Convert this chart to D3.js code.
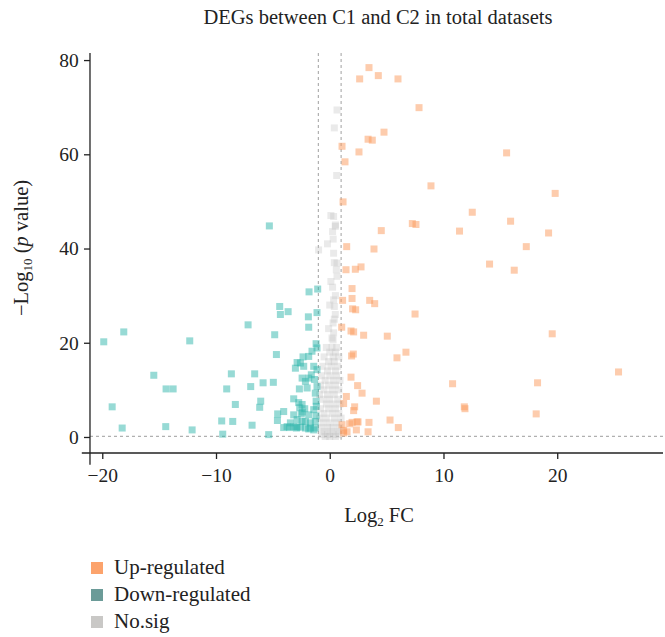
<!DOCTYPE html>
<html>
<head>
<meta charset="utf-8">
<script src="https://cdn.jsdelivr.net/npm/d3@7"></script>
<style>
  body { margin: 0; background: #fff; }
  text { font-family: "Liberation Serif", "DejaVu Serif", serif; fill: #222; }
</style>
</head>
<body>
<div class="viewbox"></div>
<script>
// values (log2 FC, -log10 p)
const upX = [3.45, 2.63, 4.27, 6.0, 7.85, 4.77, 3.37, 3.74, 1.08, 2.57, 15.55, 1.34, 8.9, 19.82, 1.17, 12.53,
  7.26, 7.58, 15.9, 4.53, 11.41, 19.24, 1.49, 3.89, 17.28, 14.05, 16.22, 1.43, 2.25, 2.75, 1.96, 1.96,
  1.13, 3.51, 3.95, 2.01, 2.28, 7.5, 1.05, 1.87, 2.1, 2.98, 5.06, 19.56, 2.07, 1.92, 6.7, 5.91,
  25.39, 1.87, 10.8, 18.27, 2.45, 2.84, 4.1, 1.46, 1.22, 2.19, 2.1, 11.83, 11.89, 18.15,
  1.96, 2.4, 1.75, 3.45, 5.3, 6.03, 1.22, 1.52, 2.34, 3.37, 1.08, 2.49, 1.22];
const upY = [78.4, 76.0, 76.7, 76.0, 69.9, 64.7, 63.2, 63.0, 61.7, 60.5, 60.3, 58.4, 53.3, 51.7, 49.9, 47.7,
  45.3, 45.1, 45.8, 43.8, 43.7, 43.3, 40.4, 39.9, 40.4, 36.7, 35.4, 35.5, 35.6, 36.1, 31.5, 29.4,
  29.0, 29.0, 28.3, 27.2, 27.0, 26.1, 23.3, 22.5, 22.3, 21.6, 21.4, 21.9, 17.6, 17.2, 18.0, 16.8,
  13.8, 12.7, 11.3, 11.5, 10.9, 9.3, 7.6, 8.6, 7.1, 6.4, 5.6, 6.4, 6.0, 4.9,
  3.1, 3.2, 2.8, 3.1, 3.6, 2.0, 1.4, 1.1, 1.5, 1.1, 2.6, 3.2, 0.85];

const downX = [-19.87, -18.11, -12.31, -19.13, -18.25, -15.47, -14.39, -13.77, -14.42, -12.1, -7.18, -4.84,
  -4.69, -4.4, -4.34, -3.66, -8.65, -9.06, -6.6, -6.95, -5.86, -4.96, -8.3, -6.07, -6.16, -9.5, -8.53,
  -6.83, -9.41, -5.37, -4.58, -4.6, -4.05, -4.05, -3.52, -5.31, -1.82, -1.06, -1.88, -1.12, -1.85,
  -1.2, -1.56, -1.85, -2.35, -2.87, -2.58, -3.02, -2.29, -1.62, -1.41, -1.33, -1.85, -2.14, -1.99,
  -2.67, -3.17, -2.73, -2.43, -2.64, -1.27, -1.2, -1.41, -1.85, -2.43, -2.14, -1.7, -1.27, -1.27,
  -2.87, -3.17, -2.87, -2.58, -2.14, -1.7, -3.46, -3.75, -1.41, -1.2, -1.12, -1.12, -2.43, -1.12,
  -1.18, -3.17, -1.85, -2.93, -2.4, -2.2, -2.5];
const downY = [20.2, 22.3, 20.4, 6.4, 1.9, 13.1, 10.2, 10.2, 2.2, 1.5, 23.8, 21.7,
  17.5, 27.7, 26.0, 26.6, 13.4, 10.2, 13.4, 10.7, 11.5, 11.6, 6.9, 7.6, 6.3, 3.4, 3.3,
  2.5, 0.6, 0.5, 4.9, 3.5, 5.4, 2.0, 2.0, 44.8, 30.8, 31.4, 25.5, 26.4, 23.3,
  19.8, 18.2, 17.1, 17.0, 15.8, 15.7, 14.6, 15.0, 13.2, 15.0, 12.2, 12.5, 11.8, 10.4,
  10.2, 8.1, 7.3, 6.9, 6.2, 9.3, 7.6, 5.8, 4.7, 3.3, 3.3, 3.0, 3.3, 1.9,
  3.7, 2.2, 2.1, 2.1, 1.9, 1.9, 3.0, 2.2, 1.5, 4.5, 18.9, 14.3, 12.5, 10.7,
  6.5, 4.7, 1.7, 1.9, 5.3, 6.0, 4.9];

const nosigX = [0.64, 0.4, 0.61, 0.34, 0.49, 0.25, -0.98, 0.34, 0.64, 0.58, 0.64, 0.25, 0.34, 0.4, 0.49, 0.29,
  0.34, 0.29, 0.2, -0.1, 0.4, 0.0, 0.5, 0.1, 0.4, -0.2, 0.3, 0.5, 0.1,
  -0.3, 0.2, 0.6, 0.0, 0.5, -0.5, 0.3, 0.8, -0.1, 0.4, -0.6, 0.1, 0.7, -0.2, 0.5, -0.7, 0.0, 0.6,
  -0.4, 0.3, 0.9, -0.8, -0.1, 0.5, -0.5, 0.2, 0.8, -0.9, -0.2, 0.4, -0.6, 0.0, 0.7, -0.3, 0.3, 0.9,
  -0.8, -0.1, 0.5, -0.5, 0.2, 0.8, -0.9, -0.3, 0.4, 1.0, -0.6, 0.0, 0.6, -0.8, -0.2, 0.3, 0.9,
  -0.5, 0.1, 0.7, -0.7, -0.2, 0.3, 0.8, -0.4, 0.0, 0.5];
const nosigY = [69.4, 65.6, 55.5, 46.8, 44.7, 43.6, 39.7, 39.0, 36.9, 35.5, 34.1, 31.8, 29.1, 27.7, 26.0, 24.2,
  22.1, 20.6, 21, 23, 25, 28, 30, 33, 37, 41, 42, 45, 47,
  19, 19, 19, 18, 18, 17, 17, 17, 16, 16, 15, 15, 15, 14, 14, 13, 13, 13,
  12, 12, 12, 11, 11, 11, 10, 10, 10, 9, 9, 9, 8, 8, 8, 7, 7, 7,
  6, 6, 6, 5, 5, 5, 4, 4, 4, 4, 3, 3, 3, 2, 2, 2, 2,
  1.2, 1.2, 1.2, 0.5, 0.5, 0.5, 0.5, 0.1, 0.1, 0.1];

const xTicks = [-20, -10, 0, 10, 20];
const yTicks = [0, 20, 40, 60, 80];
const cutX = [-1, 1];
const cutY = 0.13;
const legendLabels = ["Up-regulated", "Down-regulated", "No.sig"];
const legendColors = ["#fca36c", "#6b9b98", "#c9c8c6"];
const pointColors = ["#fc9a5c", "#2fb5ac", "#c4c4c4"];
const pointOpacity = [0.5, 0.5, 0.35];

const W = 665, H = 637;

let svg = d3.select(".viewbox")
  .append("svg")
  .attr("width", W)
  .attr("height", H);

let x = d3.scaleLinear().domain([-21.8, 29.3]).range([81.8, 663]);
let y = d3.scaleLinear().domain([-3.4, 81.5]).range([453, 53]);
const yAxisAt = -21.08;

// title
svg.append("text")
  .attr("x", 378).attr("y", 24)
  .attr("text-anchor", "middle")
  .attr("font-size", 20.5)
  .text("DEGs between C1 and C2 in total datasets");

// reference lines
svg.selectAll(".vcut")
  .data(cutX)
  .enter()
  .append("line")
  .attr("x1", d => x(d)).attr("x2", d => x(d))
  .attr("y1", y(81.5)).attr("y2", y(-0.6))
  .attr("stroke", "#b0b0b0").attr("stroke-width", 1.2)
  .attr("stroke-dasharray", "3,3");

svg.append("line")
  .attr("x1", x(yAxisAt)).attr("x2", x(29.3))
  .attr("y1", y(cutY)).attr("y2", y(cutY))
  .attr("stroke", "#b0b0b0").attr("stroke-width", 1.2)
  .attr("stroke-dasharray", "3,3");

// points: no.sig first, then down, then up
const groups = [
  { xs: nosigX, ys: nosigY, i: 2 },
  { xs: downX, ys: downY, i: 1 },
  { xs: upX, ys: upY, i: 0 }
];
const sz = 7;
groups.forEach(g => {
  svg.append("g")
    .selectAll("rect")
    .data(g.xs.map((v, k) => [v, g.ys[k]]))
    .enter()
    .append("rect")
    .attr("x", d => x(d[0]) - sz / 2)
    .attr("y", d => y(d[1]) - sz / 2)
    .attr("width", sz).attr("height", sz)
    .attr("fill", pointColors[g.i])
    .attr("fill-opacity", pointOpacity[g.i]);
});

// axes
let xAxis = svg.append("g")
  .attr("transform", `translate(0,${y(-3.4)})`)
  .call(d3.axisBottom(x).tickValues(xTicks).tickSize(6).tickSizeOuter(0)
    .tickFormat(d => d < 0 ? "\u2212" + Math.abs(d) : d));
let yAxis = svg.append("g")
  .attr("transform", `translate(${x(yAxisAt)},0)`)
  .call(d3.axisLeft(y).tickValues(yTicks).tickSize(6).tickSizeOuter(0));

[xAxis, yAxis].forEach(a => {
  a.select(".domain").remove();
  a.selectAll("line").attr("stroke", "#222").attr("stroke-width", 1.3);
  a.selectAll("text").attr("font-size", 19.5).attr("font-family", "Liberation Serif, serif").attr("fill", "#222");
});
xAxis.selectAll("text").attr("dy", "1.05em");
yAxis.selectAll("text").attr("dx", "-0.12em");

svg.append("line")
  .attr("x1", x(-21.8)).attr("x2", x(29.3))
  .attr("y1", y(-3.4)).attr("y2", y(-3.4))
  .attr("stroke", "#222").attr("stroke-width", 1.3);
svg.append("line")
  .attr("x1", x(yAxisAt)).attr("x2", x(yAxisAt))
  .attr("y1", y(81.5)).attr("y2", y(-5.9))
  .attr("stroke", "#222").attr("stroke-width", 1.3);

// axis titles
let xt = svg.append("text")
  .attr("x", 379).attr("y", 522)
  .attr("text-anchor", "middle")
  .attr("font-size", 20.5);
xt.append("tspan").text("Log");
xt.append("tspan").attr("font-size", 13).attr("dy", 4).text("2");
xt.append("tspan").attr("dy", -4).text(" FC");

let yt = svg.append("text")
  .attr("transform", "translate(28,248) rotate(-90)")
  .attr("text-anchor", "middle")
  .attr("font-size", 20.5);
yt.append("tspan").text("\u2212Log");
yt.append("tspan").attr("font-size", 13).attr("dy", 4).text("10");
yt.append("tspan").attr("dy", -4).text(" (");
yt.append("tspan").attr("font-style", "italic").text("p");
yt.append("tspan").text(" value)");

// legend
let lg = svg.append("g")
  .selectAll("g")
  .data(legendLabels)
  .enter()
  .append("g")
  .attr("transform", (d, i) => `translate(91,${562 + i * 27})`);
lg.append("rect")
  .attr("width", 12).attr("height", 12)
  .attr("fill", (d, i) => legendColors[i]);
lg.append("text")
  .attr("x", 23).attr("y", 12)
  .attr("font-size", 21)
  .text(d => d);
</script>
</body>
</html>
